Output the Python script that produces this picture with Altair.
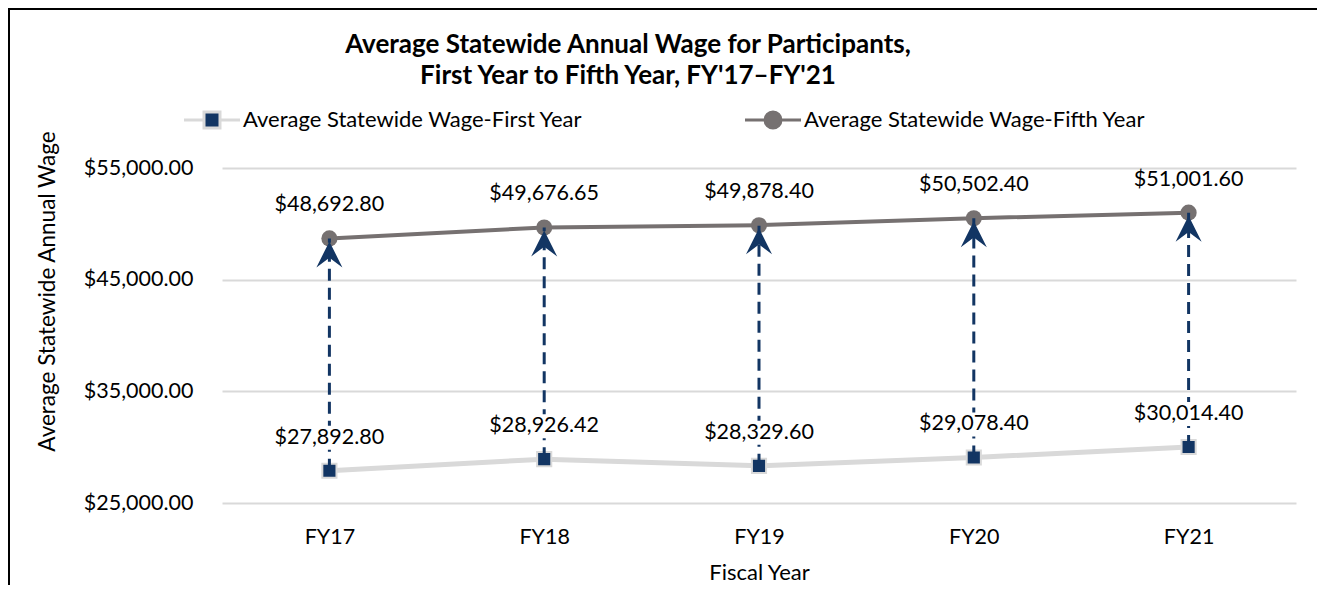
import altair as alt
import pandas as pd

# ---- data ----
fiscal_years = ["FY17", "FY18", "FY19", "FY20", "FY21"]
first_year_wage = [27892.80, 28926.42, 28329.60, 29078.40, 30014.40]
fifth_year_wage = [48692.80, 49676.65, 49878.40, 50502.40, 51001.60]
series_names = ["Average Statewide Wage-First Year", "Average Statewide Wage-Fifth Year"]
y_ticks = [25000, 35000, 45000, 55000]

FONT = "Lato"
NAVY = "#123563"
LIGHT = "#d9d9d9"
DARK = "#767171"
LBL = 21.5

wide = pd.DataFrame({"fy": fiscal_years, "first": first_year_wage, "fifth": fifth_year_wage})
long = pd.concat([
    pd.DataFrame({"fy": fiscal_years, "series": series_names[0], "value": first_year_wage}),
    pd.DataFrame({"fy": fiscal_years, "series": series_names[1], "value": fifth_year_wage}),
], ignore_index=True)

x_enc = alt.X("fy:N", sort=fiscal_years,
              scale=alt.Scale(type="point", padding=0.5),
              axis=alt.Axis(title="Fiscal Year", labelAngle=0, labelFontSize=LBL, labelFont=FONT,
                            labelColor="black", labelPadding=23, domain=False, ticks=False, grid=False,
                            titleFont=FONT, titleFontSize=22, titleFontWeight="normal",
                            titleColor="black", titlePadding=15))
y_scale = alt.Scale(domain=[25000, 55000], nice=False, zero=False)
y_enc = alt.Y("value:Q", scale=y_scale,
              axis=alt.Axis(values=y_ticks, format="$,.2f", labelFontSize=LBL, labelFont=FONT,
                            labelColor="black", labelPadding=29, domain=False, ticks=False,
                            grid=True, gridColor=LIGHT, gridWidth=2,
                            title="Average Statewide Annual Wage", titleFont=FONT, titleFontSize=22.5,
                            titleFontWeight="normal", titleColor="black",
                            titleX=-175, titleY=123, titleBaseline="middle"))

legend = alt.Legend(title=None, orient="none", legendX=-21, legendY=-59, direction="horizontal",
                    columns=2, columnPadding=156, labelFont=FONT, labelFontSize=22, labelColor="black",
                    labelLimit=600, symbolSize=256, labelOffset=20, symbolStrokeWidth=3)

sq_path = "M-3.5,0 L-1,0 M1,0 L3.5,0 M-1,-1 L1,-1 L1,1 L-1,1 Z"
ci_path = "M-3.5,0 L-1,0 M1,0 L3.5,0 M-1,0 A1,1 0 1,0 1,0 A1,1 0 1,0 -1,0 Z"

stroke_enc = alt.Stroke("series:N", scale=alt.Scale(domain=series_names, range=[LIGHT, DARK]), legend=legend)
fill_enc = alt.Fill("series:N", scale=alt.Scale(domain=series_names, range=[NAVY, DARK]), legend=legend)
shape_enc = alt.Shape("series:N", scale=alt.Scale(domain=series_names, range=[sq_path, ci_path]), legend=legend)

base = alt.Chart(long)

line_first = base.transform_filter(alt.datum.series == series_names[0]).mark_line(strokeWidth=5).encode(
    x=x_enc, y=y_enc, stroke=stroke_enc)
line_fifth = base.transform_filter(alt.datum.series == series_names[1]).mark_line(strokeWidth=4).encode(
    x=x_enc, y=y_enc, stroke=stroke_enc)

pts_first = base.transform_filter(alt.datum.series == series_names[0]).mark_point(
    shape="square", filled=True, size=200, strokeWidth=2, opacity=1).encode(
    x=x_enc, y=y_enc, fill=fill_enc, stroke=stroke_enc)
pts_fifth = base.transform_filter(alt.datum.series == series_names[1]).mark_point(
    shape="circle", filled=True, size=260, strokeWidth=0, opacity=1).encode(
    x=x_enc, y=y_enc, fill=fill_enc, stroke=stroke_enc)

legend_only = base.transform_filter("false").mark_point(filled=True, opacity=1, strokeWidth=3).encode(
    x=x_enc, y=y_enc, fill=fill_enc, stroke=stroke_enc, shape=shape_enc)

arrows = alt.Chart(wide).mark_rule(color=NAVY, strokeWidth=3, strokeDash=[12, 7]).encode(
    x=alt.X("fy:N", sort=fiscal_years, scale=alt.Scale(type="point", padding=0.5)),
    y=alt.Y("first:Q", scale=y_scale), y2="fifth:Q")

head_path = "M0,-1 L1,1 L0,0.25 L-1,1 Z"
heads = alt.Chart(wide).mark_point(shape=head_path, filled=True, color=NAVY, size=676,
                                   opacity=1, yOffset=16).encode(
    x=alt.X("fy:N", sort=fiscal_years, scale=alt.Scale(type="point", padding=0.5)),
    y=alt.Y("fifth:Q", scale=y_scale))

bg_path = "M-1,-0.2 L1,-0.2 L1,0.2 L-1,0.2 Z"
label_bg = base.transform_filter(alt.datum.series == series_names[0]).mark_point(
    shape=bg_path, filled=True, color="white", size=14400, opacity=1, yOffset=-33).encode(
    x=x_enc, y=y_enc)

labels = base.mark_text(font=FONT, fontSize=LBL, color="black", dy=-33).encode(
    x=x_enc, y=y_enc, text=alt.Text("value:Q", format="$,.2f"))

border = alt.Chart(pd.DataFrame({"k": [0]})).mark_rule(color="black", strokeWidth=2).encode(
    x=alt.value(-213), x2=alt.value(-213), y=alt.value(-159), y2=alt.value(420))
border_top = alt.Chart(pd.DataFrame({"k": [0]})).mark_rule(color="black", strokeWidth=2).encode(
    x=alt.value(-214), x2=alt.value(1095), y=alt.value(-159), y2=alt.value(-159))

chart = alt.layer(
    line_first, line_fifth, pts_first, pts_fifth, legend_only, arrows, heads, label_bg, labels,
    border, border_top
).properties(
    width=1074, height=335,
    title=alt.Title(["Average Statewide Annual Wage for Participants,",
                     "First Year to Fifth Year, FY'17\u2013FY'21"],
                    font=FONT, fontSize=26, fontWeight="bold", color="black",
                    anchor="middle", dx=-131, dy=81, lineHeight=31, offset=0),
    padding={"left": 214, "top": 160, "right": 21, "bottom": 82},
    autosize=alt.AutoSizeParams(type="none"),
    background="white",
).configure_view(stroke=None)

chart.save("out.html", embed_options={"renderer": "svg", "actions": False})
